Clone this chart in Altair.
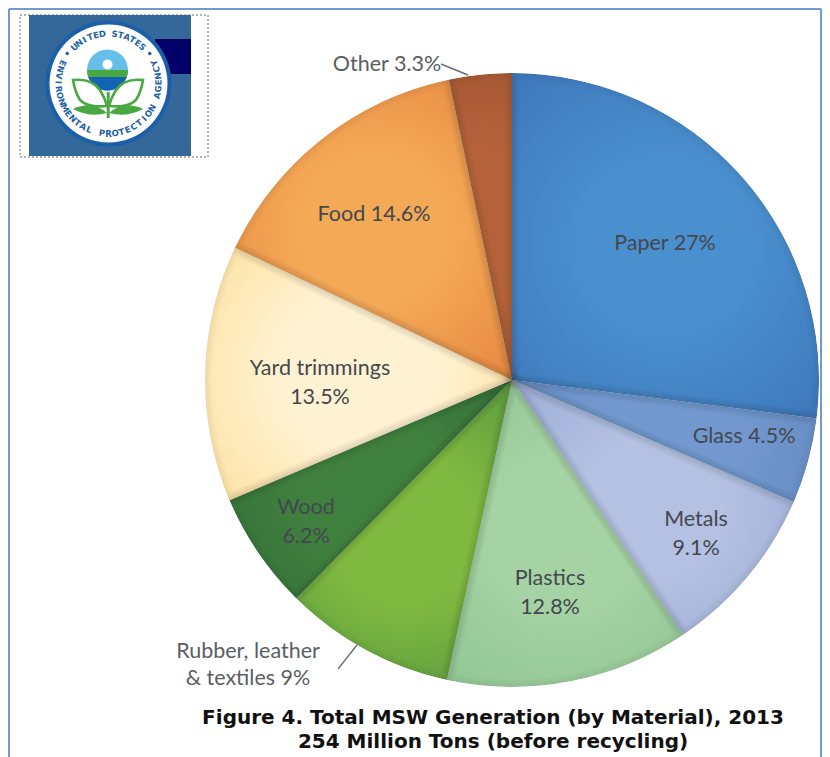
import math, re
import altair as alt
import pandas as pd

materials = ["Paper", "Glass", "Metals", "Plastics", "Rubber, leather & textiles", "Wood", "Yard trimmings", "Food", "Other"]
shares = [27, 4.5, 9.1, 12.8, 9, 6.2, 13.5, 14.6, 3.3]
centre_colours = ["#4a8fce", "#7298cf", "#b4c1e3", "#a5d3a3", "#80b940", "#40803e", "#fff2d2", "#f4a956", "#b5623a"]
edge_colours = ["#3f7abd", "#648ac0", "#9fafd6", "#92c595", "#5a9c40", "#33703a", "#fde3a4", "#e88c44", "#a25632"]

OX, OY = 8, 8  # page margin
R = 307
THETA = alt.Scale(domain=[0, 100], range=[0, 2 * math.pi])


def px(x):
    return alt.value(x - OX)


def py(y):
    return alt.value(y - OY)


one = alt.Data(values=[{"k": 1}])
layers = []

# ---- pie slices
cum = 0
frames = []
for name, s, c, e in zip(materials, shares, centre_colours, edge_colours):
    df = pd.DataFrame({"material": [name], "start": [cum], "end": [cum + s]})
    frames.append(df)
    cum += s
    grad = alt.RadialGradient(
        gradient="radial", x1=0.5, y1=0.5, x2=0.5, y2=0.5, r1=0, r2=0.62,
        stops=[alt.GradientStop(offset=0, color=c), alt.GradientStop(offset=0.4, color=c),
               alt.GradientStop(offset=1, color=e)])
    layers.append(alt.Chart(df).mark_arc(fill=grad, outerRadius=R, innerRadius=0).encode(
        theta=alt.Theta("start:Q", scale=THETA),
        theta2="end:Q",
        x=px(512), y=py(380)))

# soft shading along every slice boundary
for df in frames:
    for w in (14, 10, 6, 2):
        layers.append(alt.Chart(df).mark_arc(
            fillOpacity=0, stroke="#1a1a2a", strokeOpacity=0.02, strokeWidth=w, outerRadius=R, innerRadius=0
        ).encode(theta=alt.Theta("start:Q", scale=THETA), theta2="end:Q", x=px(512), y=py(380)))
# white collar that trims the shading outside the pie
collar = pd.DataFrame({"start": [0], "end": [100]})
layers.append(alt.Chart(collar).mark_arc(fill="#ffffff", innerRadius=R, outerRadius=R + 9).encode(
    theta=alt.Theta("start:Q", scale=THETA), theta2="end:Q", x=px(512), y=py(380)))

# ---- frame
FRAME = "#6f9bd1"
for x0, y0, x1, y1 in [(9, 9, 9, 757), (9, 9, 821, 9), (821, 9, 821, 757)]:
    layers.append(alt.Chart(one).mark_rule(color=FRAME, strokeWidth=2).encode(
        x=px(x0), y=py(y0), x2=px(x1), y2=py(y1)))

# ---- slice labels
INK = "#43484e"
FONT = "Lato"


def label(text, x, y, size=21.5, font=FONT, color=INK, weight="normal", lh=28.5):
    return alt.Chart(one).mark_text(
        font=font, fontSize=size, color=color, fontWeight=weight, lineBreak="\n",
        lineHeight=lh, align="center", baseline="middle"
    ).encode(x=px(x), y=py(y), text=alt.value(text))


layers += [
    label("Paper 27%", 665, 244),
    label("Glass 4.5%", 744, 437),
    label("Metals\n9.1%", 696, 520),
    label("Plastics\n12.8%", 550, 579),
    label("Wood\n6.2%", 306, 508),
    label("Yard trimmings\n13.5%", 320, 369),
    label("Food 14.6%", 374, 215),
    label("Other 3.3%", 387, 65, color="#5a5e62"),
    label("Rubber, leather\n& textiles 9%", 248, 652, color="#5a5e62", lh=27),
]
for x0, y0, x1, y1 in [(441, 64, 468, 75), (357, 645, 338, 669)]:
    layers.append(alt.Chart(one).mark_rule(color="#6b6f73", strokeWidth=1.4).encode(
        x=px(x0), y=py(y0), x2=px(x1), y2=py(y1)))

# ---- caption
layers += [
    label("Figure 4. Total MSW Generation (by Material), 2013", 493, 718, size=20,
          font="DejaVu Sans", color="#111111", weight="bold"),
    label("254 Million Tons (before recycling)", 493, 742, size=20,
          font="DejaVu Sans", color="#111111", weight="bold"),
]

# ---- logo
layers.append(alt.Chart(one).mark_rect(fill="#ffffff", stroke="#666666", strokeDash=[2, 2], strokeWidth=1).encode(
    x=px(20), x2=px(208), y=py(15), y2=py(157)))
layers.append(alt.Chart(one).mark_rect(fill="#34679a").encode(x=px(29), x2=px(191), y=py(15), y2=py(156)))
layers.append(alt.Chart(one).mark_rect(fill="#000066").encode(x=px(155), x2=px(191), y=py(39), y2=py(74)))

LX, LY = 108.5, 83.5
BIG = 63


def dot(x, y, d, color):
    return alt.Chart(one).mark_point(filled=True, opacity=1, shape="circle", color=color, strokeWidth=0).encode(
        x=px(x), y=py(y), size=alt.value(d * d))


def shape(path, fill=None, stroke=None, sw=1):
    # path is written in picture pixels; normalised to the symbol's unit square around the seal's centre
    toks = re.split(r"(\s+)", path)
    out, odd = [], True
    for t in toks:
        if re.fullmatch(r"-?\d+(\.\d+)?", t):
            v = float(t)
            v = (v - LX) / BIG if odd else (v - LY) / BIG
            odd = not odd
            out.append(f"{v:.4f}")
        else:
            out.append(t)
    kw = dict(opacity=1, shape="".join(out), strokeWidth=sw)
    if fill:
        kw.update(filled=True, fill=fill, strokeWidth=0)
    else:
        kw.update(filled=False, stroke=stroke)
    return alt.Chart(one).mark_point(**kw).encode(x=px(LX), y=py(LY), size=alt.value((2 * BIG) ** 2))


layers += [dot(LX, LY, 126, "#1a5fa8"), dot(LX, LY, 118, "#ffffff")]

# ring lettering
top_text = "UNITED STATES"
bot_text = "ENVIRONMENTAL PROTECTION AGENCY"
rows = []
for i, ch in enumerate(top_text):
    a = -43 + 86 * i / (len(top_text) - 1)
    rows.append({"c": ch, "x": LX - OX + 50 * math.sin(math.radians(a)),
                 "y": LY - OY - 50 * math.cos(math.radians(a)), "a": a % 360})
for i, ch in enumerate(bot_text):
    a = 294 - 228 * i / (len(bot_text) - 1)
    rows.append({"c": ch, "x": LX - OX + 50 * math.sin(math.radians(a)),
                 "y": LY - OY - 50 * math.cos(math.radians(a)), "a": (a - 180) % 360})
layers.append(alt.Chart(pd.DataFrame(rows)).mark_text(
    font="DejaVu Sans", fontWeight="bold", fontSize=8.5, color="#1f5fa6", baseline="middle", align="center"
).encode(x=alt.X("x:Q", scale=None, axis=None), y=alt.Y("y:Q", scale=None, axis=None),
         angle=alt.Angle("a:Q", scale=None), text="c:N"))
for sgn in (-1, 1):
    a = math.radians(sgn * 54)
    layers.append(dot(LX + 51 * math.sin(a), LY - 51 * math.cos(a), 3.5, "#1f5fa6"))

# globe
GX, GY, GR = 107.5, 70, 20.5


def segment(y0, y1):
    y0r, y1r = (y0 - GY) / GR, (y1 - GY) / GR
    a0, a1 = math.asin(y0r), math.asin(min(y1r, 1))
    n = 10
    right = [(GX + GR * math.cos(a0 + (a1 - a0) * i / n), GY + GR * math.sin(a0 + (a1 - a0) * i / n)) for i in range(n + 1)]
    left = [(2 * GX - x, y) for x, y in reversed(right)]
    pts = right + left
    return "M " + " L ".join(f"{x:.2f} {y:.2f}" for x, y in pts) + " Z"


layers += [
    dot(GX, GY, 2 * GR, "#66bfe8"),
    shape(segment(70, 77.5), fill="#4aa842"),
    shape(segment(77, 90.4), fill="#1464b4"),
    dot(GX, 64.5, 10, "#ffffff"),
    # leaves
    shape("M 73 80 Q 92 78 100 90 Q 105 98 107 106 Q 88 108 80 100 Q 75 92 73 80 Z", stroke="#4aa842", sw=2.6),
    shape("M 143 80 Q 124 78 116 90 Q 111 98 109 106 Q 128 108 136 100 Q 141 92 143 80 Z", stroke="#4aa842", sw=2.6),
    shape("M 73 109 Q 92 100 107 113 Q 90 118 73 109 Z", fill="#4aa842"),
    shape("M 143 109 Q 124 100 109 113 Q 126 118 143 109 Z", fill="#4aa842"),
    shape("M 106.7 92 L 109.7 92 L 109.7 118 L 106.7 118 Z", fill="#4aa842"),
]

chart = alt.layer(*layers).properties(
    width=814, height=749, padding=0, background="#ffffff"
).configure_view(stroke=None).configure(autosize=alt.AutoSizeParams(type="none"))

chart.save("out.html", embed_options={"renderer": "svg", "actions": False})
